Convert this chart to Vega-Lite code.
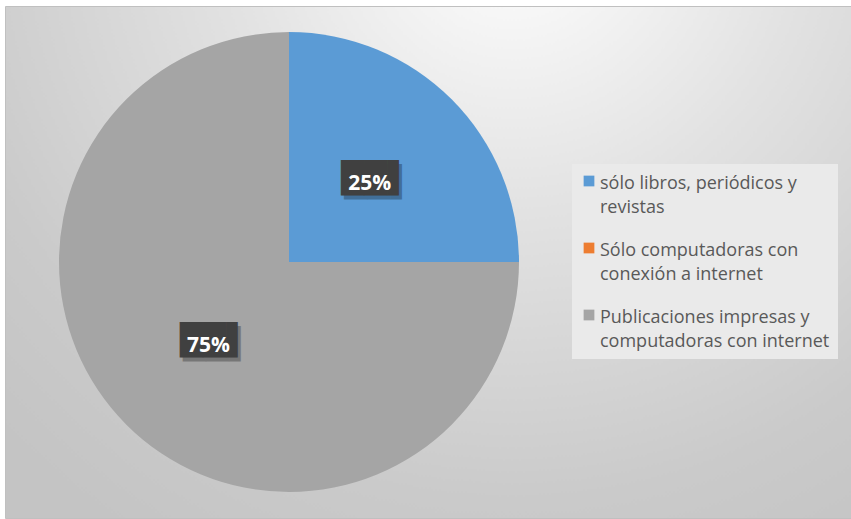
{
  "$schema": "https://vega.github.io/schema/vega-lite/v6.json",
  "width": 846,
  "height": 512,
  "autosize": {"type": "none"},
  "padding": {"left": 5, "top": 6, "right": 0, "bottom": 1},
  "background": "white",
  "config": {
    "view": {
      "stroke": "#c0c0c0",
      "strokeWidth": 1,
      "fill": {
        "gradient": "radial",
        "x1": 0.6, "y1": 0.1, "r1": 0,
        "x2": 0.6, "y2": 0.1, "r2": 0.85,
        "stops": [
          {"offset": 0, "color": "#ffffff"},
          {"offset": 0.4, "color": "#e2e2e2"},
          {"offset": 0.8, "color": "#cacaca"},
          {"offset": 1, "color": "#c4c4c4"}
        ]
      }
    },
    "style": {"guide-label": {"lineHeight": 24, "dy": -6}}
  },
  "data": {
    "values": [
      {"categoria": "sólo libros, periódicos y revistas", "valor": 0.25, "orden": 1},
      {"categoria": "Sólo computadoras con conexión a internet", "valor": 0, "orden": 2},
      {"categoria": "Publicaciones impresas y computadoras con internet", "valor": 0.75, "orden": 3}
    ]
  },
  "encoding": {
    "theta": {"field": "valor", "type": "quantitative", "stack": true},
    "order": {"field": "orden", "type": "quantitative"},
    "x": {"value": 284},
    "y": {"value": 256}
  },
  "layer": [
    {
      "mark": {"type": "arc", "outerRadius": 230},
      "encoding": {
        "color": {
          "field": "categoria",
          "type": "nominal",
          "sort": null,
          "scale": {
            "domain": [
              "sólo libros, periódicos y revistas",
              "Sólo computadoras con conexión a internet",
              "Publicaciones impresas y computadoras con internet"
            ],
            "range": ["#5b9bd5", "#ed7d31", "#a5a5a5"]
          },
          "legend": {
            "title": null,
            "orient": "none",
            "legendX": 567,
            "legendY": 158,
            "padding": 8,
            "fillColor": "#eaeaea",
            "symbolType": "square",
            "symbolSize": 115,
            "symbolStrokeWidth": 0,
            "labelFont": "Open Sans",
            "labelFontSize": 18,
            "labelColor": "#595959",
            "labelLimit": 300,
            "labelOffset": 2,
            "labelBaseline": "top",
            "rowPadding": 22,
            "labelExpr": "datum.value == 'sólo libros, periódicos y revistas' ? ['sólo libros, periódicos y', 'revistas'] : datum.value == 'Sólo computadoras con conexión a internet' ? ['Sólo computadoras con', 'conexión a internet'] : ['Publicaciones impresas y', 'computadoras con internet']"
          }
        }
      }
    },
    {
      "transform": [{"filter": "datum.valor > 0"}],
      "mark": {"type": "text", "radius": 114, "font": "DejaVu Sans", "fontSize": 30, "baseline": "middle", "color": "#000000", "opacity": 0.28, "dx": 9, "dy": 2},
      "encoding": {"text": {"value": "██▌"}}
    },
    {
      "transform": [{"filter": "datum.valor > 0"}],
      "mark": {"type": "text", "radius": 114, "font": "DejaVu Sans", "fontSize": 30, "baseline": "middle", "color": "#404040", "dx": 6, "dy": -2},
      "encoding": {"text": {"value": "██▌"}}
    },
    {
      "transform": [{"filter": "datum.valor > 0"}],
      "mark": {"type": "text", "radius": 114, "font": "Open Sans", "fontSize": 21, "fontWeight": "bold", "baseline": "middle", "color": "#ffffff", "dy": 3},
      "encoding": {"text": {"field": "valor", "type": "quantitative", "format": ".0%"}}
    }
  ]
}
